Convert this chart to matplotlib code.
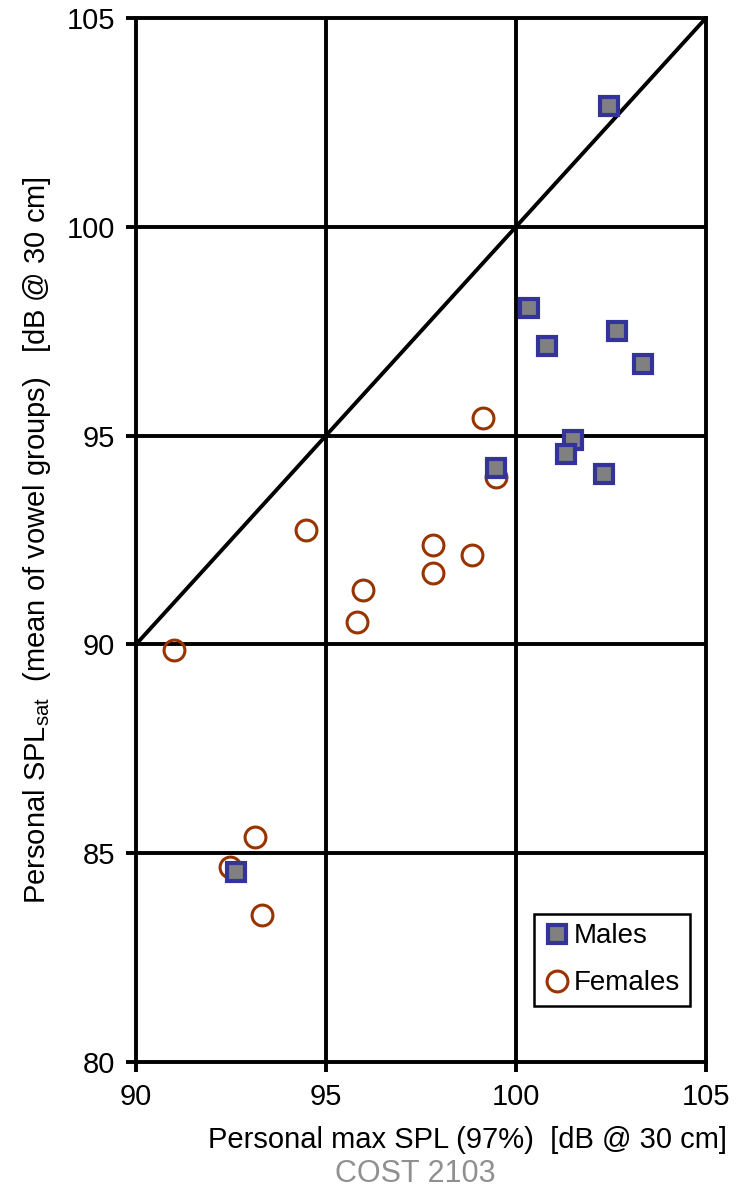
import matplotlib.pyplot as plt

# +
# data
# -
males_x = [102.45, 100.34, 100.82, 102.66, 103.34, 101.50, 101.32, 102.32, 99.47, 92.63]
males_y = [102.89, 98.06, 97.15, 97.50, 96.71, 94.89, 94.56, 94.08, 94.22, 84.55]
females_x = [91.0, 94.47, 99.13, 99.47, 97.82, 97.82, 98.84, 95.97, 95.82, 93.13, 92.47, 93.32]
females_y = [89.87, 92.74, 95.42, 94.01, 92.38, 91.71, 92.14, 91.30, 90.54, 85.39, 84.67, 83.52]
x_ticks = [90, 95, 100, 105]
y_ticks = [80, 85, 90, 95, 100, 105]

plt.rcParams['font.family'] = ['Liberation Sans', 'DejaVu Sans']

fig = plt.figure(figsize=(7.38, 11.9), dpi=100)
ax = fig.add_axes([0.1843, 0.1076, 0.7723, 0.8773])

# grid and identity line
for v in x_ticks[1:-1]:
    ax.axvline(v, color='black', lw=2.8, zorder=1)
for v in y_ticks[1:-1]:
    ax.axhline(v, color='black', lw=2.8, zorder=1)
ax.plot([90, 105], [90, 105], color='black', lw=2.8, zorder=1)

ax.plot(males_x, males_y, ls='none', marker='s', ms=13, mfc='#808080',
        mec='#333399', mew=3, label='Males', zorder=3)
ax.plot(females_x, females_y, ls='none', marker='o', ms=15, mfc='none',
        mec='#993300', mew=2.2, label='Females', zorder=2)

ax.set_xlim(90, 105)
ax.set_ylim(80, 105)
ax.set_xticks(x_ticks)
ax.set_yticks(y_ticks)
ax.tick_params(labelsize=21, length=7, width=2.8, direction='out', pad=8)
for s in ax.spines.values():
    s.set_linewidth(2.8)

leg = ax.legend(loc='lower right', bbox_to_anchor=(0.972, 0.0536), fontsize=20,
                frameon=True, fancybox=False, edgecolor='black', framealpha=1,
                handletextpad=0.1, borderpad=0.35, labelspacing=0.75,
                handlelength=1.0, borderaxespad=0)
leg.get_frame().set_linewidth(1.8)

ax.set_ylabel('Personal SPL$_{\\mathregular{sat}}$  (mean of vowel groups)   [dB @ 30 cm]',
              fontsize=21)
ax.yaxis.set_label_coords(-0.145, 0.5)
fig.text(0.985, 1 - 1140 / 1190, 'Personal max SPL (97%)  [dB @ 30 cm]',
         ha='right', va='center', fontsize=21)
fig.text(415 / 738, 1 - 1174 / 1190, 'COST 2103', ha='center', va='center',
         fontsize=22, color='#909090')

fig.savefig('out.png', dpi=100)
